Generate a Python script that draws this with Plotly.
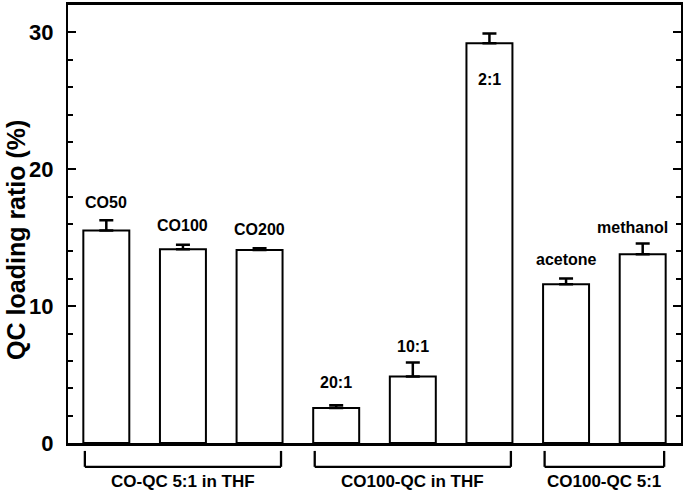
import plotly.graph_objects as go

# ---- data ----
labels = ["CO50", "CO100", "CO200", "20:1", "10:1", "2:1", "acetone", "methanol"]
values = [15.53, 14.15, 14.10, 2.56, 4.86, 29.20, 11.59, 13.79]
errors = [0.75, 0.34, 0.12, 0.20, 1.03, 0.72, 0.42, 0.78]
groups = ["CO-QC 5:1 in THF", "CO100-QC in THF", "CO100-QC 5:1"]
group_members = [[0, 1, 2], [3, 4, 5], [6, 7]]
y_title = "QC loading ratio (%)"
y_ticks = [0, 10, 20, 30]

# ---- styling / placement ----
FONT = "Liberation Sans, Arial, sans-serif"
x_idx = list(range(len(labels)))
label_shift = [18, 19, 19, 23, 16, -46, 19, 16]   # px above error cap
label_xshift = [0, 0, 0, 0, 0, 0, 0, -10]

fig = go.Figure()
fig.add_trace(go.Bar(
    x=x_idx, y=values, width=0.6,
    marker=dict(color="white", line=dict(color="black", width=2)),
    error_y=dict(type="data", array=errors, arrayminus=[0] * len(errors),
                 symmetric=False, color="black", thickness=2.5, width=7),
    showlegend=False, hoverinfo="skip",
))

annotations = []
for i, (lab, v, e) in enumerate(zip(labels, values, errors)):
    annotations.append(dict(
        x=i, y=v + e, xref="x", yref="y", text=lab, showarrow=False,
        xanchor="center", yanchor="middle", yshift=label_shift[i],
        xshift=label_xshift[i],
        font=dict(family=FONT, size=16, color="black", weight="bold"),
    ))

shapes = []
half = 0.28
y_top, y_bot, y_lab = -0.0181, -0.0544, -0.088
for g, members in zip(groups, group_members):
    x0 = members[0] - half
    x1 = members[-1] + half
    line = dict(color="black", width=2.3)
    shapes.append(dict(type="line", xref="x", yref="paper", x0=x0, x1=x0, y0=y_top, y1=y_bot, line=line))
    shapes.append(dict(type="line", xref="x", yref="paper", x0=x1, x1=x1, y0=y_top, y1=y_bot, line=line))
    shapes.append(dict(type="line", xref="x", yref="paper", x0=x0, x1=x1, y0=y_bot, y1=y_bot, line=line))
    annotations.append(dict(
        x=sum(members) / len(members), y=y_lab, xref="x", yref="paper", text=g,
        showarrow=False, xanchor="center", yanchor="middle",
        font=dict(family=FONT, size=17, color="black", weight="bold"),
    ))

annotations.append(dict(
    x=-0.084, y=0.4626, xref="paper", yref="paper", text=y_title, textangle=-90,
    showarrow=False, xanchor="center", yanchor="middle",
    font=dict(family=FONT, size=25, color="black", weight="bold"),
))

fig.update_layout(
    width=685, height=492,
    margin=dict(l=68, r=2, t=2, b=49),
    paper_bgcolor="white", plot_bgcolor="white",
    annotations=annotations, shapes=shapes,
    bargap=0.4,
)
fig.update_xaxes(
    range=[-0.5, 7.5], showgrid=False, zeroline=False,
    showline=True, linecolor="black", linewidth=2.5, mirror=True,
    ticks="", showticklabels=False,
)
fig.update_yaxes(
    range=[0, 32], showgrid=False, zeroline=False,
    showline=True, linecolor="black", linewidth=2, mirror="allticks",
    ticks="inside", ticklen=8, tickwidth=2, tickcolor="black",
    tickvals=y_ticks, ticktext=[str(t) for t in y_ticks],
    tickfont=dict(family=FONT, size=22, color="black", weight="bold"),
    ticklabelstandoff=8,
    minor=dict(ticks="inside", dtick=2, ticklen=5, tickwidth=2, tickcolor="black"),
)

fig.write_html(
    "out.html",
    config={"displayModeBar": False},
    post_script="document.body.style.margin='0';document.body.style.overflow='hidden';",
)
